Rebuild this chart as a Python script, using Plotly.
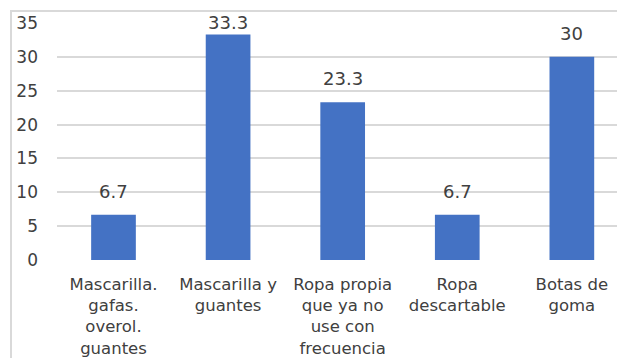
import plotly.graph_objects as go

categories = ["Mascarilla.<br>gafas.<br>overol.<br>guantes", "Mascarilla y<br>guantes",
              "Ropa propia<br>que ya no<br>use con<br>frecuencia", "Ropa<br>descartable", "Botas de<br>goma"]
values = [6.7, 33.3, 23.3, 6.7, 30]
labels = ["6.7", "33.3", "23.3", "6.7", "30"]
y_ticks = [0, 5, 10, 15, 20, 25, 30, 35]

W, H = 617, 358
ML, MR, MT, MB = 57, 0, 23, 98
YMAX = 35
plot_h = H - MT - MB
px_per = plot_h / YMAX

FONT = "DejaVu Sans"
TXT = "#404040"

fig = go.Figure()
fig.add_trace(go.Bar(x=list(range(len(categories))), y=values, marker_color="#4472C4",
                     marker_line_width=0, width=0.39))

for i, (v, t) in enumerate(zip(values, labels)):
    shift = min(11, (YMAX - v) * px_per - 12)
    shift = max(shift, -1)
    fig.add_annotation(x=i, y=v, text=t, showarrow=False, yanchor="bottom",
                       yshift=shift, font=dict(family=FONT, size=18, color=TXT))

fig.add_shape(type="rect", xref="paper", yref="paper",
              x0=(11 - ML) / (W - ML - MR), x1=1.2,
              y0=-0.6, y1=1 + (MT - 11) / plot_h,
              line=dict(color="#d9d9d9", width=2), layer="below")

fig.update_layout(
    width=W, height=H, margin=dict(l=ML, r=MR, t=MT, b=MB),
    plot_bgcolor="white", paper_bgcolor="white", showlegend=False,
    font=dict(family=FONT, size=15, color=TXT),
    xaxis=dict(range=[-0.493, 4.394], tickvals=list(range(len(categories))),
               ticktext=categories, showgrid=False, zeroline=False, showline=False,
               ticks="", ticklabelstandoff=12, tickfont=dict(size=16.5, color=TXT)),
    yaxis=dict(range=[0, YMAX], tickvals=y_ticks, showgrid=True, gridcolor="#d9d9d9",
               gridwidth=2, zeroline=False, showline=False, ticks="",
               ticklabelstandoff=18, tickfont=dict(size=17, color=TXT)),
)
fig.write_html("out.html")
